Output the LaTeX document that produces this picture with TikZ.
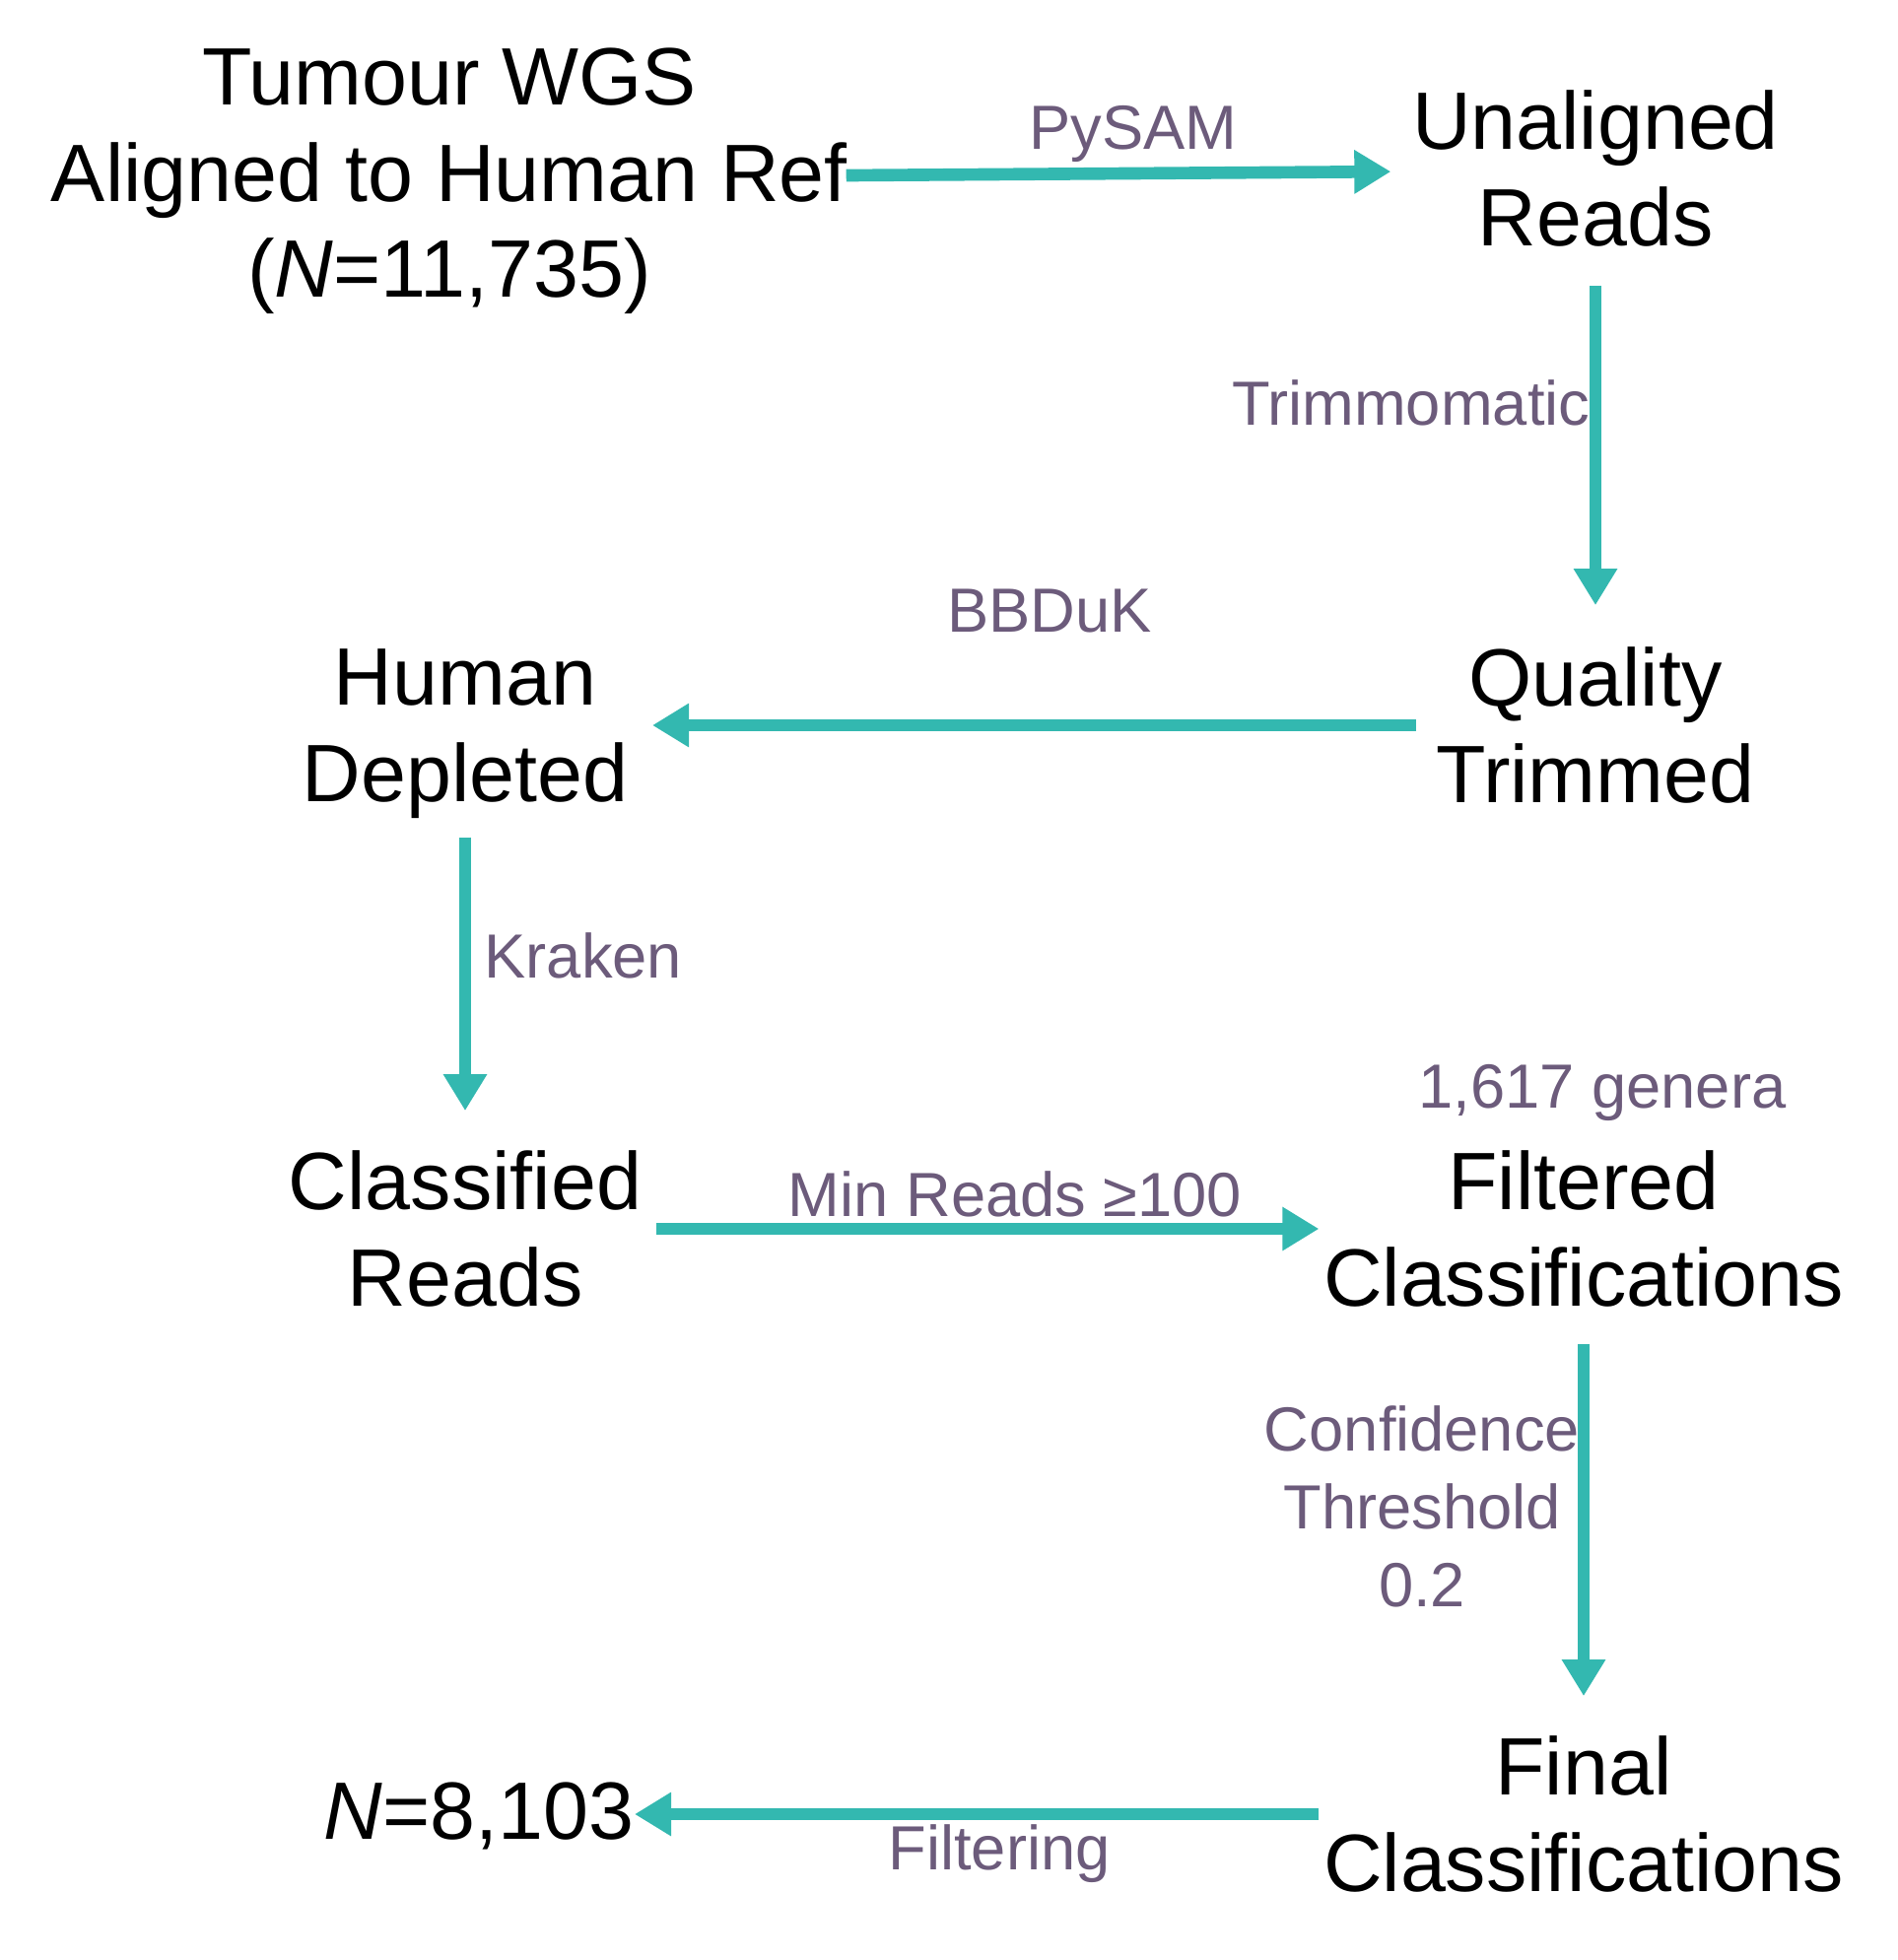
\documentclass[tikz,border=0pt]{standalone}
\usepackage{fontspec}
\setmainfont{Liberation Sans}
\usetikzlibrary{arrows.meta}
\definecolor{teal2}{HTML}{33B8B0}
\definecolor{plum2}{HTML}{6C5B7B}
\begin{document}
\begin{tikzpicture}[box/.style={inner sep=0pt,align=center,font=\fontsize{23.5}{27.8}\selectfont},
	lbl/.style={inner sep=0pt,align=center,text=plum2,font=\fontsize{18}{22.4}\selectfont},
	arr/.style={draw=teal2,line width=3.6pt,-{Triangle[length=0.37cm,width=0.42cm]}}]
				\useasboundingbox (0,0) rectangle (19.25,-19.89);
				\node[box] (wgs) at (4.56,-1.84){Tumour WGS\\Aligned to Human Ref\\(\textit{N}=11,735)};
				\node[box] (unal) at (16.19,-1.71){Unaligned\\Reads};
				\node[box] (qual) at (16.19,-7.36){Quality\\Trimmed};
				\node[box] (hum) at (4.72,-7.45){Human\\Depleted};
				\node[box] (cls) at (4.72,-12.47){Classified\\Reads};
				\node[box] (filt) at (16.07,-12.47){Filtered\\Classifications};
				\node[box] (fin) at (16.07,-18.41){Final\\Classifications};
				\node[box] (res) at (4.86,-18.43){\textit{N}=8,103};
				% labels
				\node[lbl,anchor=base] (pysam) at (11.50,-1.52){PySAM};
				\node[lbl,anchor=base east] (trim) at (16.14,-4.31){Trimmomatic};
				\node[lbl,anchor=base] (bbduk) at (10.65,-6.41){BBDuK};
				\node[lbl,anchor=base west] (krak) at (4.91,-9.92){Kraken};
				\node[lbl,anchor=base] (minr) at (10.30,-12.34){Min Reads ≥100};
				\node[lbl,anchor=base] (gen) at (16.26,-11.24){1,617 genera};
				\node[lbl,anchor=north] (conf) at (14.43,-14.26){Confidence\\Threshold\\0.2};
				\node[lbl,anchor=base] (filtg) at (10.14,-18.97){Filtering};
				\draw[arr,shorten <=-0.02cm,shorten >=0.21cm] ([yshift=0.06cm]wgs.east)--([yshift=-0.03cm]unal.west);
				\draw[arr,shorten <=0.39cm,shorten >=0.42cm] (unal.south)--(qual.north);
				\draw[arr,shorten <=0.20cm,shorten >=0.24cm] (qual.west)--(qual.west-|hum.east);
				\draw[arr,shorten <=0.18cm,shorten >=0.40cm] (hum.south)--(cls.north);
				\draw[arr,shorten <=0.14cm,shorten >=0.04cm] (cls.east)--(filt.west);
				\draw[arr,shorten <=0.37cm,shorten >=0.40cm] (filt.south)--(fin.north);
				\draw[arr,shorten <=0.04cm] (fin.west)--(fin.west-|res.east);
				\end{tikzpicture}
\end{document}
